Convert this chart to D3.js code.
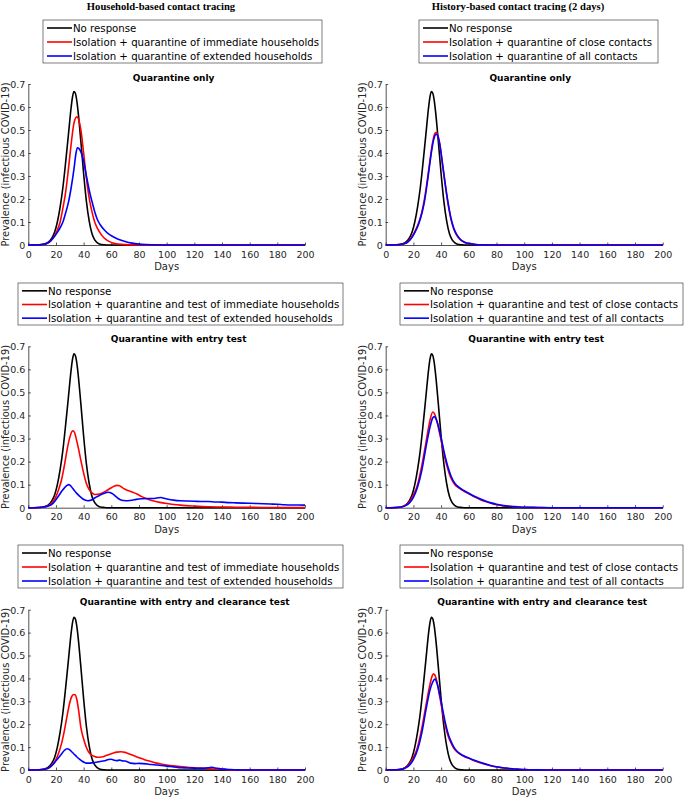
<!DOCTYPE html>
<html>
<head>
<meta charset="utf-8">
<script src="https://cdn.jsdelivr.net/npm/d3@7"></script>
<style>
  body { margin: 0; background: #fff; }
  text { font-family: "DejaVu Sans", sans-serif; }
</style>
</head>
<body>
<svg id="fig" width="685" height="797"></svg>
<script>
// x ticks (days) and y ticks (prevalence)
var dayTicks = [0, 20, 40, 60, 80, 100, 120, 140, 160, 180, 200];
var prevTicks = [0, 0.1, 0.2, 0.3, 0.4, 0.5, 0.6, 0.7];

var columnTitles = ["Household-based contact tracing", "History-based contact tracing (2 days)"];
var rowTitles = ["Quarantine only", "Quarantine with entry test", "Quarantine with entry and clearance test"];

var legendHouse = [
    ["No response", "Isolation + quarantine of immediate households", "Isolation + quarantine of extended households"],
    ["No response", "Isolation + quarantine and test of immediate households", "Isolation + quarantine and test of extended households"],
    ["No response", "Isolation + quarantine and test of immediate households", "Isolation + quarantine and test of extended households"]
];
var legendHistory = [
    ["No response", "Isolation + quarantine of close contacts", "Isolation + quarantine of all contacts"],
    ["No response", "Isolation + quarantine and test of close contacts", "Isolation + quarantine and test of all contacts"],
    ["No response", "Isolation + quarantine and test of close contacts", "Isolation + quarantine and test of all contacts"]
];

// [day, prevalence]
var noResponse = [[0,0],[5,0],[10,0.002],[14,0.01],[17,0.03],[19,0.055],[21,0.1],[23,0.165],[25,0.25],[27,0.36],[29,0.48],[31,0.6],[32,0.645],[33,0.667],[34,0.66],[35,0.63],[36,0.58],[38,0.45],[40,0.31],[42,0.19],[44,0.105],[46,0.05],[48,0.022],[50,0.009],[52,0.003],[55,0.001],[58,0],[200,0]];

var qoHouseImm = [[0,0],[10,0.002],[15,0.012],[18,0.03],[21,0.065],[23,0.1],[25,0.16],[27,0.23],[29,0.33],[31,0.44],[33,0.53],[35,0.557],[36,0.552],[38,0.5],[40,0.4],[42,0.29],[44,0.205],[46,0.145],[48,0.1],[50,0.072],[53,0.043],[56,0.024],[60,0.011],[65,0.004],[70,0.0015],[80,0],[200,0]];
var qoHouseExt = [[0,0],[10,0.002],[15,0.012],[18,0.03],[21,0.055],[23,0.075],[25,0.1],[27,0.14],[29,0.185],[31,0.25],[33,0.33],[34.5,0.4],[35.5,0.423],[36.5,0.42],[38,0.405],[40,0.365],[42,0.3],[44,0.24],[46,0.19],[48,0.145],[50,0.11],[52,0.088],[55,0.065],[58,0.048],[61,0.037],[65,0.025],[70,0.015],[75,0.008],[80,0.004],[85,0.002],[90,0.001],[100,0],[200,0]];
var qoHistClose = [[0,0],[10,0.002],[15,0.01],[18,0.028],[21,0.058],[24,0.1],[26,0.14],[28,0.2],[30,0.28],[32,0.37],[34,0.45],[35.5,0.485],[36.5,0.49],[37.5,0.48],[39,0.44],[41,0.35],[43,0.26],[45,0.18],[47,0.115],[49,0.072],[51,0.045],[54,0.022],[57,0.011],[60,0.006],[65,0.002],[70,0.0005],[75,0],[200,0]];
var qoHistAll = [[0,0],[10,0.002],[15,0.009],[18,0.025],[21,0.054],[24,0.095],[26,0.135],[28,0.19],[30,0.27],[32,0.36],[34,0.44],[35.5,0.475],[36.5,0.482],[37.5,0.475],[39,0.44],[41,0.355],[43,0.265],[45,0.185],[47,0.12],[49,0.076],[51,0.048],[54,0.024],[57,0.012],[60,0.007],[65,0.0025],[70,0.001],[75,0],[200,0]];

var etHouseImm = [[0,0],[10,0.002],[14,0.007],[17,0.02],[20,0.048],[22,0.08],[24,0.12],[26,0.18],[28,0.25],[30,0.305],[31.5,0.33],[32.5,0.334],[33.5,0.325],[35,0.29],[36.5,0.25],[38,0.205],[40,0.15],[42,0.105],[44,0.078],[46,0.064],[48,0.057],[50,0.058],[53,0.063],[56,0.072],[59,0.083],[62,0.093],[64,0.097],[66,0.095],[68,0.087],[70,0.08],[73,0.072],[76,0.066],[79,0.058],[82,0.048],[86,0.038],[90,0.03],[95,0.023],[100,0.018],[105,0.014],[110,0.011],[120,0.007],[130,0.004],[140,0.003],[150,0.002],[170,0.001],[200,0.0005]];
var etHouseExt = [[0,0],[10,0.002],[15,0.008],[18,0.02],[20,0.035],[22,0.052],[24,0.07],[26,0.085],[28,0.097],[29.5,0.1],[31,0.092],[33,0.077],[35,0.062],[37,0.05],[39,0.04],[41,0.033],[43,0.03],[45,0.032],[47,0.038],[49,0.046],[52,0.055],[55,0.063],[57.5,0.067],[59,0.066],[61,0.06],[63,0.05],[65,0.04],[67,0.033],[69,0.031],[72,0.03],[75,0.032],[78,0.036],[82,0.039],[86,0.04],[90,0.04],[93,0.042],[96,0.044],[98,0.041],[101,0.037],[105,0.033],[110,0.03],[115,0.029],[120,0.028],[125,0.027],[130,0.027],[135,0.025],[140,0.024],[145,0.022],[150,0.021],[155,0.02],[160,0.019],[165,0.018],[170,0.017],[175,0.016],[180,0.015],[185,0.013],[190,0.012],[195,0.012],[200,0.011]];
var etHistClose = [[0,0],[10,0.002],[14,0.01],[17,0.025],[20,0.055],[23,0.1],[26,0.18],[29,0.28],[32,0.38],[34,0.415],[35,0.41],[37,0.375],[39,0.32],[41,0.265],[43,0.21],[45,0.165],[47,0.13],[50,0.1],[53,0.085],[56,0.073],[60,0.06],[64,0.047],[68,0.036],[72,0.027],[76,0.019],[80,0.013],[85,0.008],[90,0.005],[95,0.003],[100,0.002],[110,0.0005],[120,0],[200,0]];
var etHistAll = [[0,0],[10,0.002],[14,0.008],[17,0.02],[20,0.045],[23,0.09],[26,0.16],[29,0.26],[32,0.35],[34,0.39],[35,0.395],[37,0.375],[39,0.33],[41,0.275],[43,0.22],[45,0.175],[47,0.14],[50,0.105],[53,0.088],[56,0.076],[60,0.063],[64,0.05],[68,0.039],[72,0.029],[76,0.021],[80,0.015],[85,0.009],[90,0.006],[95,0.004],[100,0.002],[110,0.001],[120,0],[200,0]];

var ectHouseImm = [[0,0],[10,0.002],[14,0.007],[17,0.02],[20,0.045],[22,0.075],[24,0.115],[26,0.17],[28,0.235],[30,0.295],[31.5,0.322],[33,0.33],[34,0.328],[35,0.31],[36.5,0.255],[38,0.185],[40,0.135],[42,0.098],[44,0.075],[46,0.064],[48,0.059],[50,0.056],[52,0.056],[55,0.06],[58,0.067],[61,0.073],[64,0.078],[67,0.08],[70,0.077],[73,0.07],[76,0.063],[80,0.054],[84,0.045],[88,0.038],[92,0.031],[96,0.026],[100,0.022],[105,0.018],[110,0.015],[115,0.012],[120,0.01],[125,0.008],[130,0.006],[135,0.004],[140,0.003],[145,0.001],[150,0],[200,0]];
var ectHouseExt = [[0,0],[10,0.002],[15,0.01],[18,0.025],[20,0.04],[22,0.055],[24,0.07],[26,0.085],[28,0.093],[29.5,0.09],[31,0.082],[33,0.07],[35,0.058],[37,0.047],[39,0.038],[41,0.032],[43,0.03],[46,0.031],[49,0.034],[52,0.037],[55,0.04],[58,0.046],[60,0.047],[62,0.043],[64,0.041],[66,0.043],[68,0.04],[70,0.039],[72,0.035],[74,0.03],[77,0.028],[80,0.029],[83,0.028],[86,0.026],[89,0.024],[93,0.022],[96,0.02],[100,0.017],[103,0.015],[107,0.012],[110,0.01],[115,0.009],[120,0.008],[125,0.007],[128,0.008],[131,0.011],[133,0.012],[135,0.009],[138,0.006],[142,0.004],[146,0.002],[150,0.001],[155,0],[200,0]];
var ectHistClose = [[0,0],[10,0.002],[14,0.01],[17,0.025],[20,0.055],[23,0.1],[26,0.18],[29,0.28],[32,0.375],[33.5,0.41],[34.5,0.42],[35.5,0.415],[37,0.385],[39,0.32],[41,0.255],[43,0.195],[45,0.15],[47,0.12],[49,0.097],[51,0.082],[54,0.068],[57,0.058],[60,0.051],[63,0.043],[66,0.036],[70,0.028],[75,0.02],[80,0.013],[85,0.009],[90,0.005],[95,0.003],[100,0.002],[110,0],[200,0]];
var ectHistAll = [[0,0],[10,0.002],[14,0.008],[17,0.02],[20,0.045],[23,0.088],[26,0.16],[29,0.26],[32,0.35],[34,0.385],[35.5,0.397],[37,0.38],[39,0.33],[41,0.268],[43,0.208],[45,0.16],[47,0.127],[49,0.102],[51,0.085],[54,0.07],[57,0.06],[60,0.052],[63,0.045],[66,0.038],[70,0.03],[75,0.021],[80,0.014],[85,0.01],[90,0.006],[95,0.004],[100,0.002],[110,0.0005],[120,0],[200,0]];

var colors = ["#000000", "#ff0000", "#0000ff"];

var fig = d3.select("#fig");

// column headings (serif, like the original figure)
var headX = [161, 518];
columnTitles.forEach(function(t, i) {
    fig.append("text")
        .attr("x", headX[i]).attr("y", 9.5)
        .attr("text-anchor", "middle")
        .style("font-family", "'Liberation Serif', serif")
        .style("font-weight", "bold")
        .attr("font-size", 10.6)
        .text(t);
});

var cols = [
    {x0: 28.3, x1: 305, ylab: 5, titleShift: [7, 12, 18]},
    {x0: 385.7, x1: 662.7, ylab: 362, titleShift: [6, 12, 18]}
];
var rows = [
    {top: 84, bottom: 245, title: 80.5, legTop: 20, legH: 43, tickY: 257.5, daysY: 269.5},
    {top: 346.3, bottom: 507.7, title: 342, legTop: 283, legH: 42, tickY: 520.2, daysY: 532.5},
    {top: 609.7, bottom: 770, title: 605, legTop: 545, legH: 43, tickY: 782.5, daysY: 795}
];
// legend box left / right edges per column per row
var legBoxes = [
    [[43, 322], [419, 658]],
    [[18, 343], [400, 683]],
    [[18, 343], [400, 683]]
];

var panels = [
    [[noResponse, qoHouseImm, qoHouseExt], [noResponse, qoHistClose, qoHistAll]],
    [[noResponse, etHouseImm, etHouseExt], [noResponse, etHistClose, etHistAll]],
    [[noResponse, ectHouseImm, ectHouseExt], [noResponse, ectHistClose, ectHistAll]]
];

var drawPanel = function(r, c) {
    var col = cols[c], row = rows[r];
    var series = panels[r][c];
    var labels = c == 0 ? legendHouse[r] : legendHistory[r];

    var x = d3.scaleLinear().domain([0, 200]).range([col.x0, col.x1]);
    var y = d3.scaleLinear().domain([0, 0.7]).range([row.bottom, row.top]);

    var g = fig.append("g");

    var xAxis = d3.axisBottom(x).tickValues(dayTicks).tickSizeInner(-2.5).tickSizeOuter(0).tickPadding(0);
    var yAxis = d3.axisLeft(y).tickValues(prevTicks).tickSizeInner(-2.5).tickSizeOuter(0).tickPadding(3)
        .tickFormat(function(d) { return d == 0 ? "0" : d3.format(".1f")(d); });

    var gx = g.append("g").attr("transform", "translate(0," + row.bottom + ")").call(xAxis);
    var gy = g.append("g").attr("transform", "translate(" + col.x0 + ",0)").call(yAxis);
    [gx, gy].forEach(function(a) {
        a.select(".domain").attr("stroke", "#262626").attr("stroke-width", 0.8);
        a.selectAll(".tick line").attr("stroke", "#262626").attr("stroke-width", 0.8);
        a.selectAll(".tick text").attr("fill", "#262626").attr("font-size", 9.5)
            .style("font-family", "'DejaVu Sans', sans-serif");
    });
    // baseline of the day labels
    gx.selectAll(".tick text").attr("dy", null).attr("y", row.tickY - row.bottom);
    gy.selectAll(".tick text").attr("dy", "0.35em");

    g.append("text")
        .attr("x", (col.x0 + col.x1) / 2).attr("y", row.daysY)
        .attr("text-anchor", "middle").attr("font-size", 10).attr("fill", "#262626")
        .text("Days");

    var yc = (row.top + row.bottom) / 2;
    g.append("text")
        .attr("transform", "translate(" + (col.ylab + 4) + "," + yc + ") rotate(-90)")
        .attr("text-anchor", "middle").attr("font-size", 9.9).attr("fill", "#262626")
        .text("Prevalence (infectious COVID-19)");

    g.append("text")
        .attr("x", (col.x0 + col.x1) / 2 + col.titleShift[r]).attr("y", row.title)
        .attr("text-anchor", "middle").attr("font-size", 9).style("font-weight", "bold")
        .text(rowTitles[r]);

    var line = d3.line()
        .x(function(d) { return x(d[0]); })
        .y(function(d) { return y(d[1]); })
        .curve(d3.curveMonotoneX);

    series.forEach(function(s, i) {
        g.append("path")
            .datum(s)
            .attr("d", line)
            .attr("fill", "none")
            .attr("stroke", colors[i])
            .attr("stroke-width", 1.6)
            .attr("stroke-linejoin", "round");
    });

    // legend
    var box = legBoxes[r][c];
    var leg = g.append("g");
    leg.append("rect")
        .attr("x", box[0]).attr("y", row.legTop)
        .attr("width", box[1] - box[0]).attr("height", row.legH)
        .attr("fill", "#fff").attr("stroke", "#262626").attr("stroke-width", 0.6);
    var step = (row.legH - 1) / 3;
    labels.forEach(function(lab, i) {
        var ly = row.legTop + step * (i + 0.5) + 1;
        leg.append("line")
            .attr("x1", box[0] + 4).attr("x2", box[0] + 29)
            .attr("y1", ly).attr("y2", ly)
            .attr("stroke", colors[i]).attr("stroke-width", 1.6);
        leg.append("text")
            .attr("x", box[0] + 30).attr("y", ly + 3.7)
            .attr("font-size", 10.2).attr("fill", "#000")
            .text(lab);
    });
};

for (var r = 0; r < 3; r++) {
    for (var c = 0; c < 2; c++) drawPanel(r, c);
}
</script>
</body>
</html>
